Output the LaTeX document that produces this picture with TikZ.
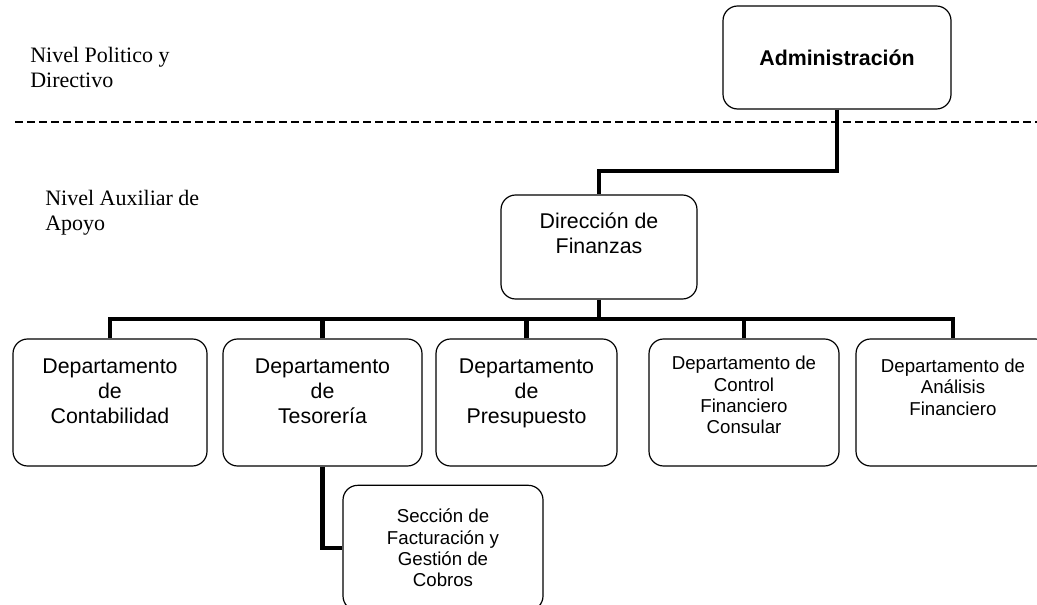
\documentclass[tikz,border=0pt]{standalone}
\usepackage{amsmath}
\usepackage{amssymb}
\usepackage{fontspec}
\setmainfont{Liberation Sans}
\newfontfamily\nivelfont{Liberation Serif}
\usepackage{tikz}

\begin{document}
\begin{tikzpicture}[x=0.75pt,y=-0.75pt,
    caja/.style={draw, line width=0.9pt, rounded corners=11pt, align=center, inner sep=2pt, font=\fontsize{16}{19}\selectfont},
    depto/.style={caja, minimum height=95.25pt, text depth=17pt},
    enlace/.style={line width=3.5pt, line join=miter},
    nivel/.style={anchor=north west, inner sep=0pt, align=left, font=\nivelfont\fontsize{16.5}{19}\selectfont}]
    \useasboundingbox (0,0) rectangle (1037,605);
    \clip (0,0) rectangle (1037,605);
    \node[nivel] (politico) at (30,47) {Nivel Politico y\\Directivo};
    \node[nivel] (auxiliar) at (45,190) {Nivel Auxiliar de\\Apoyo};
    \coordinate (sepL) at (15,122);
    \coordinate (sepR) at (1037,122);
    \draw[line width=1.1pt, dash pattern=on 6pt off 3pt] (sepL) -- (sepR);
    \node[caja, minimum width=171pt, minimum height=77.25pt, font=\bfseries\fontsize{16}{19}\selectfont] (admin) at (837,57.5) {Administración};
    \node[caja, minimum width=147pt, minimum height=78pt, text depth=21pt] (direccion) at (599,247) {Dirección de\\Finanzas};
    \node[depto, minimum width=145.5pt] (contab) at (110,402.5) {Departamento\\de\\Contabilidad};
    \node[depto, minimum width=149.25pt] (tesor) at (322.5,402.5) {Departamento\\de\\Tesorería};
    \node[depto, minimum width=135.75pt] (presu) at (526.5,402.5) {Departamento\\de\\Presupuesto};
    \node[depto, minimum width=142.5pt, text depth=11pt, font=\fontsize{14}{16}\selectfont] (control) at (744,402.5) {Departamento de\\Control\\Financiero\\Consular};
    \node[depto, minimum width=145.5pt, text depth=23pt, font=\fontsize{14}{16}\selectfont] (analisis) at (953,402.5) {Departamento de\\Análisis\\Financiero};
    \node[caja, minimum width=150pt, minimum height=94pt, font=\fontsize{14}{16}\selectfont] (seccion) at (443,548) {Sección de\\Facturación y\\Gestión de\\Cobros};
    \coordinate (codo) at (0,171);
    \coordinate (bus) at (0,319);
    \draw[enlace] (admin.south) -- (admin.south |- codo) -| (direccion.north);
    \draw[enlace] (direccion.south) -- (direccion.south |- bus);
    \draw[enlace] (contab.north) -- (contab.north |- bus) -- (analisis.north |- bus) -- (analisis.north);
    \foreach \d in {tesor,presu,control}
        \draw[enlace] (\d.north) -- (\d.north |- bus);
    \draw[enlace] (tesor.south) |- (seccion.west);
\end{tikzpicture}
\end{document}
